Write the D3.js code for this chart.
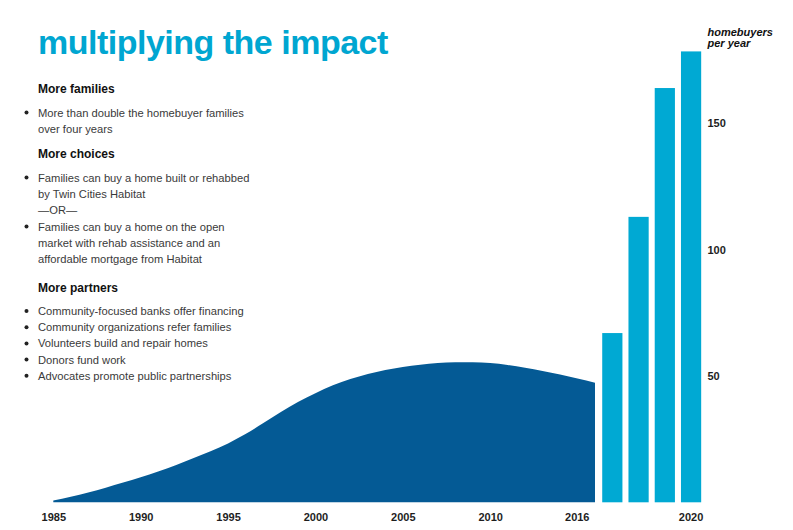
<!DOCTYPE html>
<html>
<head>
<meta charset="utf-8">
<script src="https://cdn.jsdelivr.net/npm/d3@7"></script>
<style>
  html, body { margin: 0; padding: 0; background: #fff; }
  svg { display: block; font-family: "Liberation Sans", Arial, Helvetica, sans-serif; }
</style>
</head>
<body>
<svg id="chart" width="793" height="530"></svg>
<script>
// ---- data ----
const areaYears = [1985,1986,1987,1988,1989,1990,1991,1992,1993,1994,1995,1996,1997,1998,1999,2000,
                   2001,2002,2003,2004,2005,2006,2007,2008,2009,2010,2011,2012,2013,2014,2015,2016];
const areaValues = [0.7,2.2,3.9,5.8,7.8,9.9,12.2,14.7,17.4,20.2,23.3,27.0,31.3,35.6,39.7,43.2,
                    46.3,48.8,50.8,52.4,53.6,54.5,55.1,55.4,55.4,55.1,54.4,53.3,52.0,50.6,49.0,47.3];
const barYears = [2017, 2018, 2019, 2020];
const barValues = [67, 113, 164, 178.5];
const areaTickLabels = [1985, 1990, 1995, 2000, 2005, 2010, 2016];
const barTickLabels = [2020];
const yTickLabels = [50, 100, 150];

const titleText = "multiplying the impact";
const axisTitle = ["homebuyers", "per year"];
const textBlocks = [
  { head: "More families", items: [["More than double the homebuyer families", "over four years"]] },
  { head: "More choices", items: [["Families can buy a home built or rehabbed", "by Twin Cities Habitat"], "OR",
                                   ["Families can buy a home on the open", "market with rehab assistance and an", "affordable mortgage from Habitat"]] },
  { head: "More partners", items: [["Community-focused banks offer financing"], ["Community organizations refer families"],
                                   ["Volunteers build and repair homes"], ["Donors fund work"], ["Advocates promote public partnerships"]] }
];

// ---- layout ----
const svg = d3.select("#chart");
const baseY = 502.3;
const y = d3.scaleLinear().domain([0, 50]).range([baseY, 376]);
const xArea = d3.scaleLinear().domain([1985, 2016]).range([53.3, 595]);
const xBar = d3.scaleBand().domain(barYears).range([599.2, 704.2]).paddingInner(0.23).paddingOuter(0.115);

const darkBlue = "#045a95";
const lightBlue = "#00a9d3";

// area
const areaGen = d3.area()
  .x((d, i) => xArea(areaYears[i]))
  .y0(baseY)
  .y1(d => y(d))
  .curve(d3.curveMonotoneX);
svg.append("path")
  .datum(areaValues)
  .attr("d", areaGen)
  .attr("fill", darkBlue);

// bars
svg.append("g").selectAll("rect")
  .data(barValues)
  .join("rect")
  .attr("x", (d, i) => xBar(barYears[i]))
  .attr("width", xBar.bandwidth())
  .attr("y", d => y(d))
  .attr("height", d => baseY - y(d))
  .attr("fill", lightBlue);

// x axis labels (area)
const xAxisG = svg.append("g").attr("transform", `translate(0,${baseY})`)
  .call(d3.axisBottom(xArea).tickValues(areaTickLabels).tickFormat(d3.format("d")).tickSize(0).tickPadding(11));
xAxisG.select(".domain").remove();
xAxisG.selectAll("text")
  .attr("font-size", 11).attr("font-weight", "bold").attr("fill", "#1e1e1e")
  .attr("font-family", "Liberation Sans, Arial, sans-serif")
  .attr("text-anchor", d => d === 2016 ? "end" : "middle")
  .attr("dx", d => d === 2016 ? -6 : 0);

// x axis labels (bars)
const xBarG = svg.append("g").attr("transform", `translate(0,${baseY})`)
  .call(d3.axisBottom(xBar).tickValues(barTickLabels).tickSize(0).tickPadding(11));
xBarG.select(".domain").remove();
xBarG.selectAll("text")
  .attr("font-size", 11).attr("font-weight", "bold").attr("fill", "#1e1e1e")
  .attr("font-family", "Liberation Sans, Arial, sans-serif");

// right y axis labels
const yAxisG = svg.append("g").attr("transform", `translate(707.5,0)`)
  .call(d3.axisRight(y).tickValues(yTickLabels).tickSize(0).tickPadding(0));
yAxisG.select(".domain").remove();
yAxisG.selectAll("text")
  .attr("font-size", 11).attr("font-weight", "bold").attr("fill", "#1e1e1e")
  .attr("font-family", "Liberation Sans, Arial, sans-serif");

// axis title
svg.append("g").selectAll("text")
  .data(axisTitle)
  .join("text")
  .attr("x", 707.5)
  .attr("y", (d, i) => 36 + i * 10.5)
  .attr("font-size", 11).attr("font-weight", "bold").attr("font-style", "italic")
  .attr("fill", "#111")
  .text(d => d);

// title
svg.append("text")
  .attr("x", 38).attr("y", 54)
  .attr("font-size", 34).attr("font-weight", "bold")
  .attr("fill", "#00a6d1")
  .attr("letter-spacing", -0.5)
  .text(titleText);

// text block
const tb = svg.append("g");
const headY = [92.5, 157.5, 291.5];
const lineH = 16.2;
textBlocks.forEach((blk, bi) => {
  let cy = headY[bi];
  tb.append("text").attr("x", 38).attr("y", cy)
    .attr("font-size", 12).attr("font-weight", "bold").attr("fill", "#111").text(blk.head);
  cy += 24;
  if (bi === 2) cy -= 0.5;
  blk.items.forEach(item => {
    if (item === "OR") {
      tb.append("text").attr("x", 38).attr("y", cy)
        .attr("font-size", 11.2).attr("fill", "#3a3a3a").text("\u2014OR\u2014");
      cy += lineH + 0.5;
      return;
    }
    tb.append("circle").attr("cx", 26.5).attr("cy", cy - 4).attr("r", 2).attr("fill", "#222");
    item.forEach(line => {
      tb.append("text").attr("x", 38).attr("y", cy)
        .attr("font-size", 11.2).attr("fill", "#3a3a3a").text(line);
      cy += lineH;
    });
  });
});
</script>
</body>
</html>
